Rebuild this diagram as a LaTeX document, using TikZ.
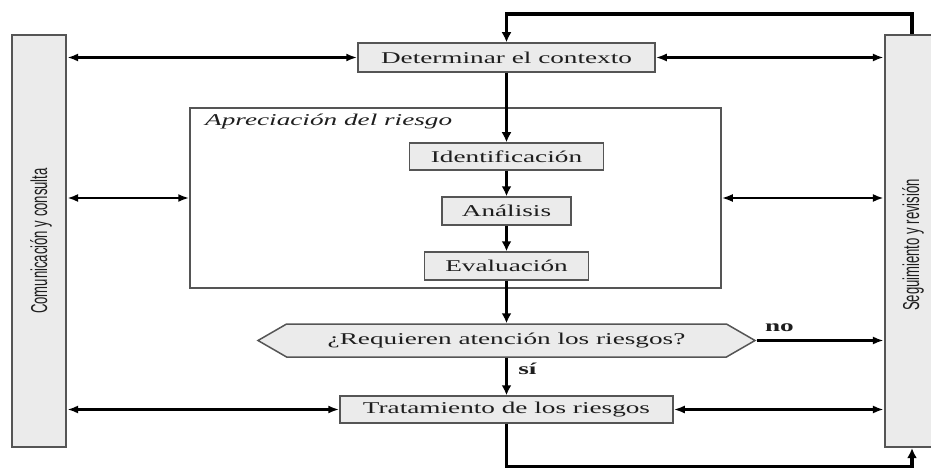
\documentclass[tikz,border=0pt]{standalone}
\usepackage{fontspec}
\setmainfont[FakeStretch=1.65]{Liberation Serif}
\newfontfamily\barrafont[FakeStretch=0.57]{Liberation Sans}
\usetikzlibrary{arrows.meta,shapes.symbols,positioning}
\definecolor{cajagris}{HTML}{EBEBEB}
\definecolor{bordegris}{HTML}{555555}
\definecolor{textogris}{HTML}{1E1E1E}

\begin{document}
\begin{tikzpicture}[x=1pt,y=-1pt,
		caja/.style={draw=bordegris, fill=cajagris, line width=1.5pt, inner sep=0pt, text=textogris, font=\fontsize{16.5}{18}\selectfont},
		barra/.style={draw=bordegris, fill=cajagris, line width=2.2pt, minimum width=54pt, minimum height=412pt, inner sep=0pt},
		barratexto/.style={rotate=90, inner sep=0pt, text=textogris, font=\barrafont\fontsize{23}{25}\selectfont},
		marco/.style={draw=bordegris, line width=1.5pt, inner sep=0pt},
		pregunta/.style={caja, shape=signal, signal to=east and west, signal pointer angle=60},
		flujo/.style={line width=3.5pt, -{Latex[length=10pt,width=10pt]}},
		aviso/.style={line width=2.5pt, -{Latex[length=11pt,width=8pt]}},
		enlace/.style={line width=2.5pt, {Latex[length=11pt,width=8pt]}-{Latex[length=11pt,width=8pt]}},
		etiqueta/.style={font=\bfseries\fontsize{16.5}{18}\selectfont, text=textogris, inner sep=0pt}]
			%%%%% START %%%%%
			
			\useasboundingbox (0, 0) rectangle (931, 468);
			
			\node[barra] (lbar) at (39, 241) {};
			\node[barratexto] (lbartxt) at (41, 241) {Comunicación y consulta};
			\node[barra] (rbar) at (912, 241) {};
			\node[barratexto] (rbartxt) at (913, 245) {Seguimiento y revisión};
			
			\node[caja, minimum width=297pt, minimum height=29pt] (ctx) at (506.5, 57.5) {Determinar el contexto};
			
			\node[marco, minimum width=531pt, minimum height=180pt] (aprec) at (455.5, 198) {};
			\node[etiqueta, font=\itshape\fontsize{16.5}{18}\selectfont, anchor=west] (aprectxt) at (205, 122) {Apreciación del riesgo};
			\node[caja, minimum width=194pt, minimum height=27pt] (ident) at (506.5, 156.5) {Identificación};
			\node[caja, minimum width=129pt, minimum height=28pt] (anal) at (506.5, 211) {Análisis};
			\node[caja, minimum width=164pt, minimum height=28pt] (eval) at (506.5, 266) {Evaluación};
			
			\node[pregunta, minimum width=497pt, minimum height=33pt] (decision) at (506.5, 340.5) {¿Requieren atención los riesgos?};
			\node[caja, minimum width=333pt, minimum height=27pt] (trat) at (506.5, 409.5) {Tratamiento de los riesgos};
			
			\coordinate (arriba) at (912, 14);
			\coordinate (abajo) at (506.5, 467);
			
			\draw[flujo] (rbar.north) -- (arriba) -| (ctx.north);
			\draw[flujo] (ctx.south) -- (ident.north);
			\draw[flujo] (ident.south) -- (anal.north);
			\draw[flujo] (anal.south) -- (eval.north);
			\draw[flujo] (eval.south) -- (decision.north);
			\draw[flujo] (decision.south) -- node[etiqueta, anchor=west, pos=0.3, xshift=10pt] {sí} (trat.north);
			\draw[flujo] (trat.south) -- (abajo) -| (rbar.south);
			
			\draw[aviso] (decision.east) -- node[etiqueta, anchor=south, pos=0.18, yshift=8pt] {no} (rbar.west |- decision.east);
			
			\draw[enlace] (lbar.east |- ctx.west) -- (ctx.west);
			\draw[enlace] (ctx.east) -- (rbar.west |- ctx.east);
			\draw[enlace] (lbar.east |- aprec.west) -- (aprec.west);
			\draw[enlace] (aprec.east) -- (rbar.west |- aprec.east);
			\draw[enlace] (lbar.east |- trat.west) -- (trat.west);
			\draw[enlace] (trat.east) -- (rbar.west |- trat.east);
			
			%%%%% END %%%%%
		\end{tikzpicture}
\end{document}
